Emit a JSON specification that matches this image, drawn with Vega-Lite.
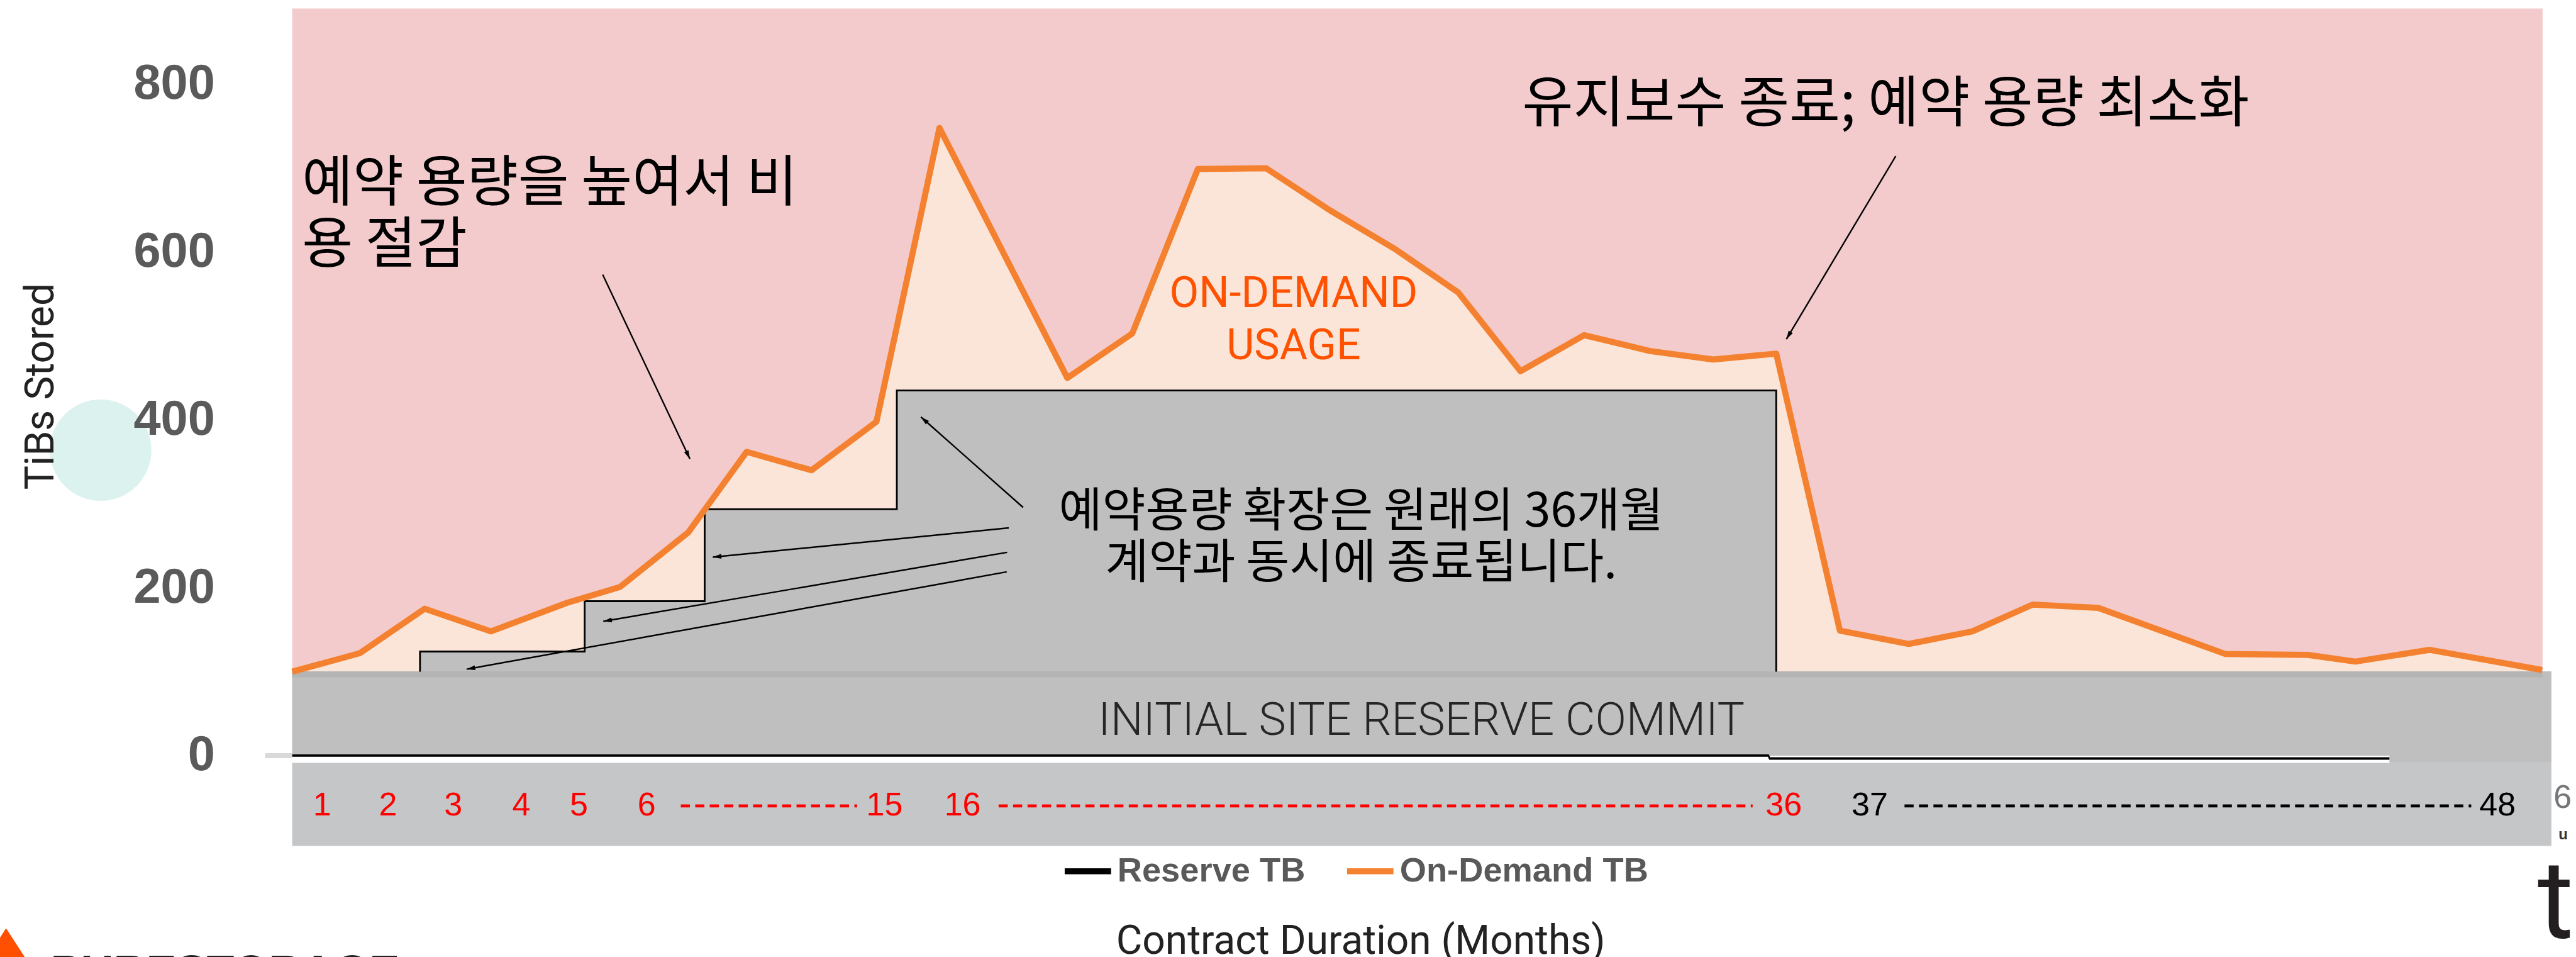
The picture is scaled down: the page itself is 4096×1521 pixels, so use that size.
{
  "$schema": "https://vega.github.io/schema/vega-lite/v6.json",
  "width": 3578.3,
  "height": 1187.3,
  "autosize": {"type": "none"},
  "padding": {"left": 464.6, "top": 13.6, "right": 53.1, "bottom": 320.1},
  "background": "#ffffff",
  "config": {
    "view": {"fill": "#f3cbcc", "stroke": null},
    "axisX": {"labels": false, "ticks": false, "domain": false, "grid": false, "titleX": 1698.5, "titleY": 314.2, "titleBaseline": "alphabetic", "titleAlign": "center", "titleFont": "Roboto", "titleFontSize": 64, "titleFontWeight": "normal", "titleColor": "#222222"},
    "axisY": {"grid": false, "domain": false, "ticks": false, "tickSize": 0, "labelPadding": 123.2, "labelFont": "Liberation Sans", "labelFontSize": 77.6, "labelFontWeight": "bold", "labelColor": "#5a5a5a", "titleFont": "Roboto", "titleFontSize": 64, "titleFontWeight": "normal", "titleColor": "#222222", "titleAngle": 270, "titleX": -380.2, "titleY": 600, "titleAlign": "center", "titleBaseline": "alphabetic"},
    "legend": {"orient": "none", "legendX": 1223.2, "legendY": 1328.8, "direction": "horizontal", "symbolType": "stroke", "symbolSize": 5432, "symbolStrokeWidth": 9.7, "labelFont": "Liberation Sans", "labelFontSize": 54.3, "labelFontWeight": "bold", "labelColor": "#595959", "labelOffset": 4.9, "labelLimit": 1000, "columnPadding": 46, "padding": 0}
  },
  "datasets": {
    "ondemand": [
      {"i": 0, "slot": 0, "tib": 100, "base": 100, "series": "On-Demand TB"},
      {"i": 1, "slot": 1.03, "tib": 122, "base": 100, "series": "On-Demand TB"},
      {"i": 2, "slot": 2.02, "tib": 175, "base": 100, "series": "On-Demand TB"},
      {"i": 3, "slot": 3.03, "tib": 148, "base": 100, "series": "On-Demand TB"},
      {"i": 4, "slot": 4.19, "tib": 182, "base": 100, "series": "On-Demand TB"},
      {"i": 5, "slot": 5.0, "tib": 201, "base": 100, "series": "On-Demand TB"},
      {"i": 6, "slot": 6.04, "tib": 266, "base": 100, "series": "On-Demand TB"},
      {"i": 7, "slot": 6.93, "tib": 362, "base": 100, "series": "On-Demand TB"},
      {"i": 8, "slot": 7.92, "tib": 340, "base": 100, "series": "On-Demand TB"},
      {"i": 9, "slot": 8.91, "tib": 398, "base": 100, "series": "On-Demand TB"},
      {"i": 10, "slot": 9.87, "tib": 748, "base": 100, "series": "On-Demand TB"},
      {"i": 11, "slot": 11.82, "tib": 450, "base": 100, "series": "On-Demand TB"},
      {"i": 12, "slot": 12.81, "tib": 503, "base": 100, "series": "On-Demand TB"},
      {"i": 13, "slot": 13.81, "tib": 699, "base": 100, "series": "On-Demand TB"},
      {"i": 14, "slot": 14.85, "tib": 700, "base": 100, "series": "On-Demand TB"},
      {"i": 15, "slot": 15.82, "tib": 650, "base": 100, "series": "On-Demand TB"},
      {"i": 16, "slot": 16.83, "tib": 603, "base": 100, "series": "On-Demand TB"},
      {"i": 17, "slot": 17.78, "tib": 552, "base": 100, "series": "On-Demand TB"},
      {"i": 18, "slot": 18.73, "tib": 458, "base": 100, "series": "On-Demand TB"},
      {"i": 19, "slot": 19.7, "tib": 501, "base": 100, "series": "On-Demand TB"},
      {"i": 20, "slot": 20.71, "tib": 482, "base": 100, "series": "On-Demand TB"},
      {"i": 21, "slot": 21.67, "tib": 472, "base": 100, "series": "On-Demand TB"},
      {"i": 22, "slot": 22.63, "tib": 479, "base": 100, "series": "On-Demand TB"},
      {"i": 23, "slot": 23.6, "tib": 149, "base": 100, "series": "On-Demand TB"},
      {"i": 24, "slot": 24.65, "tib": 133, "base": 100, "series": "On-Demand TB"},
      {"i": 25, "slot": 25.62, "tib": 148, "base": 100, "series": "On-Demand TB"},
      {"i": 26, "slot": 26.54, "tib": 180, "base": 100, "series": "On-Demand TB"},
      {"i": 27, "slot": 27.54, "tib": 176, "base": 100, "series": "On-Demand TB"},
      {"i": 28, "slot": 29.48, "tib": 121, "base": 100, "series": "On-Demand TB"},
      {"i": 29, "slot": 30.74, "tib": 120, "base": 100, "series": "On-Demand TB"},
      {"i": 30, "slot": 31.46, "tib": 112, "base": 100, "series": "On-Demand TB"},
      {"i": 31, "slot": 32.59, "tib": 126, "base": 100, "series": "On-Demand TB"},
      {"i": 32, "slot": 34.31, "tib": 102, "base": 100, "series": "On-Demand TB"}
    ],
    "reserve": [
      {"i": 0, "slot": 1.949, "tib": 100, "base": 100, "series": "Reserve TB"},
      {"i": 1, "slot": 1.949, "tib": 124, "base": 100, "series": "Reserve TB"},
      {"i": 2, "slot": 4.46, "tib": 184, "base": 100, "series": "Reserve TB"},
      {"i": 3, "slot": 6.29, "tib": 293.5, "base": 100, "series": "Reserve TB"},
      {"i": 4, "slot": 9.22, "tib": 435, "base": 100, "series": "Reserve TB"},
      {"i": 5, "slot": 22.63, "tib": 100, "base": 100, "series": "Reserve TB"}
    ],
    "months": [
      {"label": "1", "slot": 0.456, "phase": "initial"},
      {"label": "2", "slot": 1.46, "phase": "initial"},
      {"label": "3", "slot": 2.456, "phase": "initial"},
      {"label": "4", "slot": 3.493, "phase": "initial"},
      {"label": "5", "slot": 4.372, "phase": "initial"},
      {"label": "6", "slot": 5.405, "phase": "initial"},
      {"label": "15", "slot": 9.033, "phase": "initial"},
      {"label": "16", "slot": 10.223, "phase": "initial"},
      {"label": "36", "slot": 22.744, "phase": "initial"},
      {"label": "37", "slot": 24.056, "phase": "renewal"},
      {"label": "48", "slot": 33.628, "phase": "renewal"}
    ],
    "dashes": [
      {"slot": 5.926, "slot_end": 8.614, "phase": "initial"},
      {"slot": 10.772, "slot_end": 22.27, "phase": "initial"},
      {"slot": 24.586, "slot_end": 33.228, "phase": "renewal"}
    ],
    "arrows": [
      {"from_slot": 4.735, "from_tib": 573.1, "to_slot": 6.065, "to_tib": 353.5},
      {"from_slot": 24.452, "from_tib": 714.4, "to_slot": 22.784, "to_tib": 496.1},
      {"from_slot": 11.146, "from_tib": 295.7, "to_slot": 9.588, "to_tib": 403.5},
      {"from_slot": 10.927, "from_tib": 271.3, "to_slot": 6.414, "to_tib": 236.5},
      {"from_slot": 10.902, "from_tib": 242.2, "to_slot": 4.744, "to_tib": 160.0},
      {"from_slot": 10.896, "from_tib": 218.9, "to_slot": 2.66, "to_tib": 102.9}
    ],
    "one": [{}]
  },
  "layer": [
    {
      "data": {"name": "one"},
      "mark": {"type": "point", "filled": true, "size": 26000, "color": "#dcf2ef", "opacity": 1, "strokeWidth": 0},
      "encoding": {"x": {"datum": -2.921}, "y": {"datum": 364}}
    },
    {
      "data": {"name": "ondemand"},
      "mark": {"type": "area", "color": "#fbe5d8"},
      "encoding": {
        "x": {"field": "slot", "type": "quantitative", "title": "Contract Duration (Months)", "scale": {"domain": [0, 34.316], "nice": false, "zero": false}, "axis": {"zindex": 2}},
        "y": {"field": "tib", "type": "quantitative", "title": "TiBs Stored", "scale": {"domain": [0, 890.2], "nice": false, "zero": false}, "axis": {"values": [0, 200, 400, 600, 800], "zindex": 2}},
        "y2": {"field": "base"}
      }
    },
    {
      "data": {"name": "reserve"},
      "mark": {"type": "area", "interpolate": "step-after", "color": "#bfbfbf"},
      "encoding": {
        "x": {"field": "slot", "type": "quantitative", "title": "Contract Duration (Months)", "scale": {"domain": [0, 34.316], "nice": false, "zero": false}},
        "y": {"field": "tib", "type": "quantitative", "title": "TiBs Stored", "scale": {"domain": [0, 890.2], "nice": false, "zero": false}},
        "y2": {"field": "base"}
      }
    },
    {
      "data": {"name": "one"},
      "mark": {"type": "rect", "color": "#bfbfbf"},
      "encoding": {"x": {"datum": 0}, "x2": {"datum": 34.45}, "y": {"datum": 0}, "y2": {"datum": 100.4}}
    },
    {
      "data": {"name": "one"},
      "mark": {"type": "rect", "color": "#b4b4b4"},
      "encoding": {"x": {"datum": 0}, "x2": {"datum": 34.316}, "y": {"datum": 93.2}, "y2": {"datum": 100.4}}
    },
    {
      "data": {"name": "one"},
      "mark": {"type": "rect", "color": "#bfbfbf"},
      "encoding": {"x": {"datum": 31.98}, "x2": {"datum": 34.45}, "y": {"datum": -8.7}, "y2": {"datum": 0}}
    },
    {
      "data": {"name": "one"},
      "mark": {"type": "rect", "color": "#c5c6c8"},
      "encoding": {"x": {"datum": 0}, "x2": {"datum": 34.45}, "y": {"datum": -107.6}, "y2": {"datum": -8.7}}
    },
    {
      "data": {"name": "one"},
      "mark": {"type": "rule", "color": "#d9d9d9", "strokeWidth": 8},
      "encoding": {"x": {"datum": -0.41}, "x2": {"datum": 0}, "y": {"datum": 0}}
    },
    {
      "data": {"name": "reserve"},
      "mark": {"type": "line", "interpolate": "step-after", "strokeWidth": 2.8},
      "encoding": {
        "x": {"field": "slot", "type": "quantitative", "title": "Contract Duration (Months)", "scale": {"domain": [0, 34.316], "nice": false, "zero": false}},
        "y": {"field": "tib", "type": "quantitative", "title": "TiBs Stored", "scale": {"domain": [0, 890.2], "nice": false, "zero": false}},
        "stroke": {"field": "series", "type": "nominal", "scale": {"domain": ["Reserve TB", "On-Demand TB"], "range": ["#000000", "#f4812f"]}, "legend": {"title": null}},
        "order": {"field": "i"}
      }
    },
    {
      "data": {"name": "one"},
      "mark": {"type": "rule", "color": "#000000", "strokeWidth": 3.9},
      "encoding": {"x": {"datum": 0}, "x2": {"datum": 22.52}, "y": {"datum": 0}}
    },
    {
      "data": {"name": "one"},
      "mark": {"type": "rule", "color": "#000000", "strokeWidth": 3.9},
      "encoding": {"x": {"datum": 22.52}, "x2": {"datum": 31.98}, "y": {"datum": -3.5}}
    },
    {
      "data": {"name": "one"},
      "mark": {"type": "rule", "color": "#000000", "strokeWidth": 2.5},
      "encoding": {"x": {"datum": 22.52}, "y": {"datum": -3.5}, "y2": {"datum": 0}}
    },
    {
      "data": {"name": "ondemand"},
      "mark": {"type": "line", "strokeWidth": 9.7, "strokeJoin": "round"},
      "encoding": {
        "x": {"field": "slot", "type": "quantitative", "title": "Contract Duration (Months)", "scale": {"domain": [0, 34.316], "nice": false, "zero": false}},
        "y": {"field": "tib", "type": "quantitative", "title": "TiBs Stored", "scale": {"domain": [0, 890.2], "nice": false, "zero": false}},
        "stroke": {"field": "series", "type": "nominal", "scale": {"domain": ["Reserve TB", "On-Demand TB"], "range": ["#000000", "#f4812f"]}, "legend": {"title": null}},
        "order": {"field": "i"}
      }
    },
    {
      "data": {"name": "dashes"},
      "mark": {"type": "rule", "strokeWidth": 4.8, "strokeDash": [14.5, 8.5]},
      "encoding": {
        "x": {"field": "slot", "type": "quantitative", "title": "Contract Duration (Months)", "scale": {"domain": [0, 34.316], "nice": false, "zero": false}},
        "x2": {"field": "slot_end"},
        "y": {"datum": -60},
        "stroke": {"condition": {"test": "datum.phase === 'renewal'", "value": "#000000"}, "value": "#ff0000"}
      }
    },
    {
      "data": {"name": "months"},
      "mark": {"type": "text", "font": "Liberation Sans", "fontSize": 52, "align": "center", "baseline": "middle"},
      "encoding": {
        "x": {"field": "slot", "type": "quantitative", "title": "Contract Duration (Months)", "scale": {"domain": [0, 34.316], "nice": false, "zero": false}},
        "y": {"datum": -59.6},
        "text": {"field": "label"},
        "color": {"condition": {"test": "datum.phase === 'renewal'", "value": "#000000"}, "value": "#ff0000"}
      }
    },
    {
      "data": {"name": "one"},
      "mark": {"type": "text", "font": "Noto Sans CJK KR", "fontSize": 88, "align": "left", "baseline": "middle", "color": "#000000"},
      "encoding": {"x": {"datum": 0.149}, "y": {"datum": 680.7}, "text": {"value": "예약 용량을 높여서 비"}}
    },
    {
      "data": {"name": "one"},
      "mark": {"type": "text", "font": "Noto Sans CJK KR", "fontSize": 88, "align": "left", "baseline": "middle", "color": "#000000"},
      "encoding": {"x": {"datum": 0.149}, "y": {"datum": 607.3}, "text": {"value": "용 절감"}}
    },
    {
      "data": {"name": "one"},
      "mark": {"type": "text", "font": "Noto Sans CJK KR", "fontSize": 88, "align": "center", "baseline": "middle", "color": "#000000"},
      "encoding": {"x": {"datum": 24.3}, "y": {"datum": 775.3}, "text": {"value": "유지보수 종료; 예약 용량 최소화"}}
    },
    {
      "data": {"name": "one"},
      "mark": {"type": "text", "font": "Noto Sans CJK KR", "fontSize": 75, "align": "center", "baseline": "middle", "color": "#000000"},
      "encoding": {"x": {"datum": 16.3}, "y": {"datum": 290.2}, "text": {"value": "예약용량 확장은 원래의 36개월"}}
    },
    {
      "data": {"name": "one"},
      "mark": {"type": "text", "font": "Noto Sans CJK KR", "fontSize": 75, "align": "center", "baseline": "middle", "color": "#000000"},
      "encoding": {"x": {"datum": 16.3}, "y": {"datum": 228.4}, "text": {"value": "계약과 동시에 종료됩니다."}}
    },
    {
      "data": {"name": "one"},
      "mark": {"type": "text", "font": "Roboto", "fontSize": 68, "align": "center", "baseline": "middle", "color": "#ff5200"},
      "encoding": {"x": {"datum": 15.27}, "y": {"datum": 549.8}, "text": {"value": "ON-DEMAND"}}
    },
    {
      "data": {"name": "one"},
      "mark": {"type": "text", "font": "Roboto", "fontSize": 68, "align": "center", "baseline": "middle", "color": "#ff5200"},
      "encoding": {"x": {"datum": 15.27}, "y": {"datum": 487.3}, "text": {"value": "USAGE"}}
    },
    {
      "data": {"name": "one"},
      "mark": {"type": "text", "font": "Roboto", "fontSize": 73, "fontWeight": 300, "align": "center", "baseline": "middle", "color": "#262626"},
      "encoding": {"x": {"datum": 17.22}, "y": {"datum": 41.5}, "text": {"value": "INITIAL SITE RESERVE COMMIT"}}
    },
    {
      "data": {"name": "arrows"},
      "mark": {"type": "rule", "color": "#000000", "strokeWidth": 2.4},
      "encoding": {
        "x": {"field": "from_slot", "type": "quantitative", "title": "Contract Duration (Months)", "scale": {"domain": [0, 34.316], "nice": false, "zero": false}},
        "x2": {"field": "to_slot"},
        "y": {"field": "from_tib", "type": "quantitative", "title": "TiBs Stored", "scale": {"domain": [0, 890.2], "nice": false, "zero": false}},
        "y2": {"field": "to_tib"}
      }
    },
    {
      "data": {"name": "arrows"},
      "transform": [
        {"calculate": "atan2((datum.to_slot - datum.from_slot) * 107.5, (datum.to_tib - datum.from_tib) * 1.375) * 180 / PI", "as": "head_angle"}
      ],
      "mark": {"type": "point", "shape": "M0,0L0.45,1.6L-0.45,1.6Z", "filled": true, "size": 289, "color": "#000000", "opacity": 1, "strokeWidth": 0},
      "encoding": {
        "x": {"field": "to_slot", "type": "quantitative", "title": "Contract Duration (Months)", "scale": {"domain": [0, 34.316], "nice": false, "zero": false}},
        "y": {"field": "to_tib", "type": "quantitative", "title": "TiBs Stored", "scale": {"domain": [0, 890.2], "nice": false, "zero": false}},
        "angle": {"field": "head_angle", "type": "quantitative", "scale": null}
      }
    },
    {
      "data": {"name": "one"},
      "mark": {"type": "point", "shape": "M0,-1L1.3,1L-1.3,1Z", "filled": true, "size": 37636, "color": "#fe5000", "opacity": 1, "strokeWidth": 0},
      "encoding": {"x": {"datum": -4.363}, "y": {"datum": -278.5}}
    },
    {
      "data": {"name": "one"},
      "mark": {"type": "text", "font": "Liberation Sans", "fontSize": 72, "fontWeight": "bold", "align": "left", "baseline": "alphabetic", "color": "#231f20"},
      "encoding": {"x": {"datum": -3.684}, "y": {"datum": -276}, "text": {"value": "PURESTORAGE"}}
    },
    {
      "data": {"name": "one"},
      "mark": {"type": "text", "font": "Liberation Sans", "fontSize": 52, "align": "center", "baseline": "middle", "color": "#777777"},
      "encoding": {"x": {"datum": 34.62}, "y": {"datum": -50.5}, "text": {"value": "6"}}
    },
    {
      "data": {"name": "one"},
      "mark": {"type": "text", "font": "Liberation Sans", "fontSize": 24, "fontWeight": "bold", "align": "center", "baseline": "middle", "color": "#333333"},
      "encoding": {"x": {"datum": 34.63}, "y": {"datum": -94.5}, "text": {"value": "u"}}
    },
    {
      "data": {"name": "one"},
      "mark": {"type": "text", "font": "Roboto", "fontSize": 175, "align": "left", "baseline": "alphabetic", "color": "#231f20"},
      "encoding": {"x": {"datum": 34.24}, "y": {"datum": -216.7}, "text": {"value": "t"}}
    }
  ]
}
